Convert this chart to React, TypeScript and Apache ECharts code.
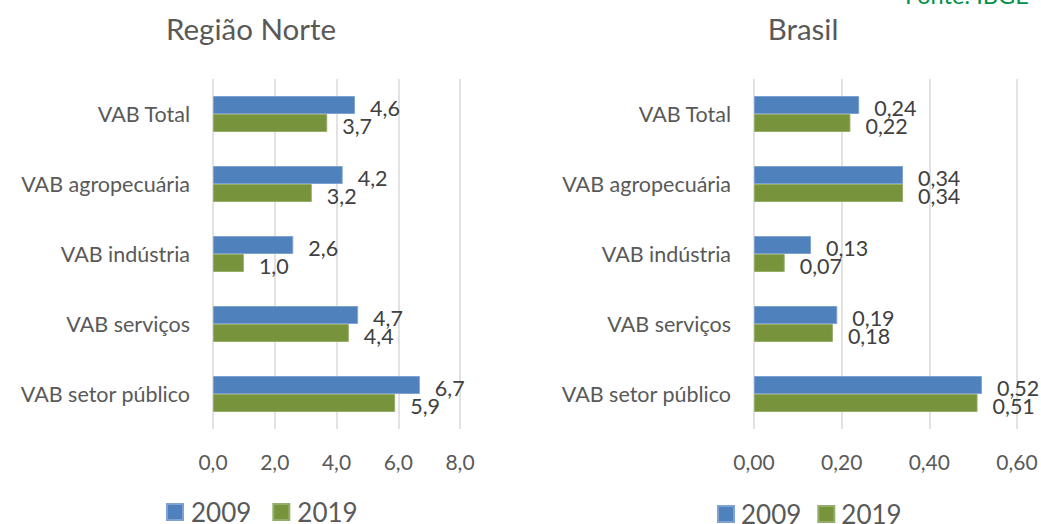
import React, { useEffect, useRef } from "react";
import * as echarts from "echarts";

const categories = ["VAB Total", "VAB agropecuária", "VAB indústria", "VAB serviços", "VAB setor público"];
const norte2009 = [4.6, 4.2, 2.6, 4.7, 6.7];
const norte2019 = [3.7, 3.2, 1.0, 4.4, 5.9];
const brasil2009 = [0.24, 0.34, 0.13, 0.19, 0.52];
const brasil2019 = [0.22, 0.34, 0.07, 0.18, 0.51];
const seriesNames = ["2009", "2019"];
const titles = ["Região Norte", "Brasil"];
const sourceText = "Fonte: IBGE";

const FONT = "Lato";
const BLUE = "#4F81BD";
const GREEN = "#77933C";

export default function App() {
  const ref = useRef<HTMLDivElement>(null);
  useEffect(() => {
    if (!ref.current) return;
    const chart = echarts.init(ref.current, undefined, { renderer: "svg" });
    const fmt = (d: number) => (v: any) => Number(v.value).toFixed(d).replace(".", ",");
    const mkSeries = (name: string, data: number[], idx: number, color: string, border: string, dec: number) => ({
      type: "bar",
      name,
      data,
      xAxisIndex: idx,
      yAxisIndex: idx,
      barWidth: 18,
      barGap: "0%",
      itemStyle: { color, borderColor: border, borderWidth: 1 },
      label: {
        show: true,
        position: "right",
        distance: 15,
        offset: [0, 3],
        fontFamily: FONT,
        fontSize: 21.5,
        color: "#404040",
        formatter: fmt(dec),
      },
    });
    const xAxisBase = {
      type: "value",
      axisLine: { show: false },
      axisTick: { show: false },
      splitLine: { show: true, lineStyle: { color: "#D9D9D9", width: 1.5 } },
    };
    const yAxisBase = {
      type: "category",
      data: categories,
      inverse: true,
      axisLine: { show: false },
      axisTick: { show: false },
      axisLabel: { fontFamily: FONT, fontSize: 21.5, color: "#595959", margin: 23 },
    };
    const tickLabel = { fontFamily: FONT, fontSize: 21, color: "#595959", margin: 22 };
    chart.setOption({
      animation: false,
      textStyle: { fontFamily: FONT },
      title: [
        { text: titles[0], left: 246, top: 8, textAlign: "center", textStyle: { fontFamily: FONT, fontSize: 29.5, fontWeight: "normal", color: "#595959" } },
        { text: titles[1], left: 798, top: 8, textAlign: "center", textStyle: { fontFamily: FONT, fontSize: 29.5, fontWeight: "normal", color: "#595959" } },
      ],
      graphic: [
        { type: "text", x: 905, y: 7, style: { text: sourceText, fontFamily: FONT, fontSize: 23.5, fill: "#00914A", verticalAlign: "bottom" } },
      ],
      legend: [
        {
          data: seriesNames,
          left: 161,
          top: 494,
          itemWidth: 16,
          itemHeight: 16,
          itemGap: 21,
          icon: "rect",
          textStyle: { fontFamily: FONT, fontSize: 26, color: "#595959", padding: [0, 0, 0, 3] },
        },
        {
          data: seriesNames,
          left: 712,
          top: 496,
          itemWidth: 16,
          itemHeight: 16,
          itemGap: 16,
          icon: "rect",
          textStyle: { fontFamily: FONT, fontSize: 26, color: "#595959", padding: [0, 0, 0, 2] },
        },
      ],
      grid: [
        { left: 213, top: 79, width: 247, height: 350 },
        { left: 754, top: 79, width: 263, height: 350 },
      ],
      xAxis: [
        { ...xAxisBase, gridIndex: 0, min: 0, max: 8, interval: 2, axisLabel: { ...tickLabel, formatter: (v: number) => v.toFixed(1).replace(".", ",") } },
        { ...xAxisBase, gridIndex: 1, min: 0, max: 0.6, interval: 0.2, axisLabel: { ...tickLabel, formatter: (v: number) => v.toFixed(2).replace(".", ",") } },
      ],
      yAxis: [
        { ...yAxisBase, gridIndex: 0 },
        { ...yAxisBase, gridIndex: 1 },
      ],
      series: [
        mkSeries(seriesNames[0], norte2009, 0, BLUE, "#7FA2D0", 1),
        mkSeries(seriesNames[1], norte2019, 0, GREEN, "#95AD68", 1),
        mkSeries(seriesNames[0], brasil2009, 1, BLUE, "#7FA2D0", 2),
        mkSeries(seriesNames[1], brasil2019, 1, GREEN, "#95AD68", 2),
      ],
    });
    return () => chart.dispose();
  }, []);
  return <div ref={ref} style={{ position: "absolute", left: 0, top: 0, width: 1041, height: 524 }} />;
}
